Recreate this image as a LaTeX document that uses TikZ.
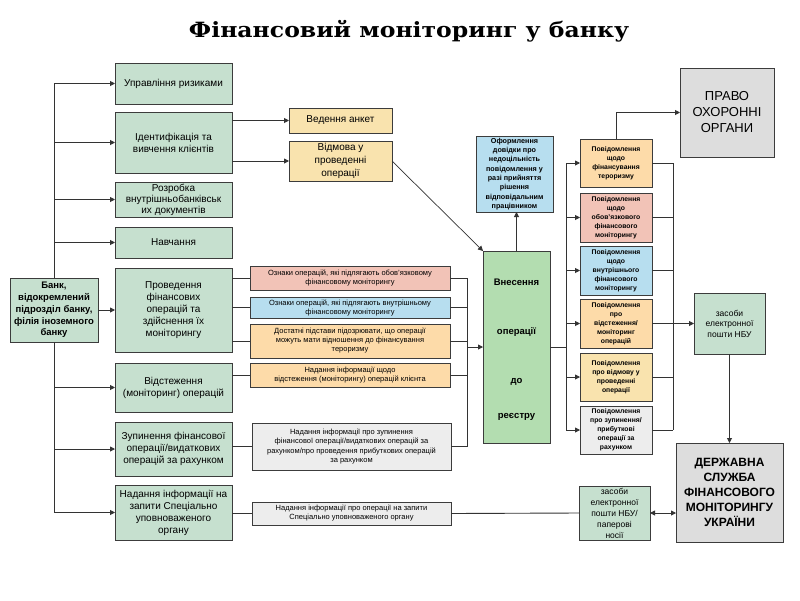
\documentclass[tikz,border=0pt]{standalone}
\usepackage{fontspec}
\setmainfont{Liberation Sans}
\newfontfamily\titlefont[FakeStretch=1.12]{DejaVu Serif}
\usetikzlibrary{arrows.meta,calc}
\definecolor{bordc}{HTML}{3C3C3C}
\definecolor{linec}{HTML}{333333}
\definecolor{grn}{HTML}{C6E0CF}
\definecolor{vgrn}{HTML}{B3DDB0}
\definecolor{orng}{HTML}{FDDBA9}
\definecolor{tan}{HTML}{F9E3AE}
\definecolor{pnk}{HTML}{F2C3B7}
\definecolor{blu}{HTML}{B7DEEF}
\definecolor{lgr}{HTML}{EDEDED}
\definecolor{dgr}{HTML}{DDDDDD}
\newcommand\fsL{\fontsize{10}{12}\selectfont}
\newcommand\fsS{\fontsize{7.5}{9}\selectfont}
\newcommand\fsR{\bfseries\fontsize{6.8}{9}\selectfont}
\newcommand\fsZ{\fontsize{8.5}{10.5}\selectfont}
\tikzset{
  bx/.style={draw=bordc, line width=0.8pt, align=center, inner sep=0pt, outer sep=0pt},
  ln/.style={draw=linec, line width=0.9pt},
  arr/.style={-{Triangle[length=5pt,width=5pt]}},
  darr/.style={{Triangle[length=5pt,width=5pt]}-{Triangle[length=5pt,width=5pt]}},
}
\begin{document}
\begin{tikzpicture}[x=1pt,y=-1pt]
\path[use as bounding box] (0,0) rectangle (800,600);
\fill[white] (0,0) rectangle (800,600);

% title
\node[font=\titlefont\bfseries\fontsize{21}{24}\selectfont] (title) at (409,31) {Фінансовий моніторинг у банку};

% bank
\node[bx, fill=grn, minimum width=88pt, minimum height=64pt, font=\bfseries\fontsize{9.5}{11.8}\selectfont] (bank) at (54,310)
  {Банк,\\відокремлений\\підрозділ банку,\\філія іноземного\\банку};

% left column
\node[bx, fill=grn, minimum width=117pt, minimum height=41pt, font=\fsL] (upr) at (173.5,83.5) {Управління ризиками};
\node[bx, fill=grn, minimum width=117pt, minimum height=61pt, font=\fsL] (ident) at (173.5,142.5) {Ідентифікація та\\вивчення клієнтів};
\node[bx, fill=grn, minimum width=117pt, minimum height=35pt, font=\fontsize{10}{11}\selectfont] (rozr) at (173.5,199.5) {Розробка\\внутрішньобанківськ\\их документів};
\node[bx, fill=grn, minimum width=117pt, minimum height=31pt, font=\fsL] (navch) at (173.5,242.5) {Навчання};
\node[bx, fill=grn, minimum width=117pt, minimum height=84pt, font=\fsL] (prov) at (173.5,310) {Проведення\\фінансових\\операцій та\\здійснення їх\\моніторингу};
\node[bx, fill=grn, minimum width=117pt, minimum height=49pt, font=\fsL] (vidst) at (173.5,387.5) {Відстеження\\(моніторинг) операцій};
\node[bx, fill=grn, minimum width=117pt, minimum height=54pt, font=\fsL] (zup) at (173.5,449) {Зупинення фінансової\\операції/видаткових\\операцій за рахунком};
\node[bx, fill=grn, minimum width=117pt, minimum height=55pt, font=\fsL] (nad) at (173.5,512.5) {Надання інформації на\\запити Спеціально\\уповноваженого\\органу};

% tan boxes
\node[bx, fill=tan, minimum width=103pt, minimum height=25pt, font=\fsL] (ved) at (340.5,120.5) {Ведення анкет};
\node[bx, fill=tan, minimum width=103pt, minimum height=40pt, font=\fontsize{10}{13}\selectfont] (vidm) at (340.5,161) {Відмова у\\проведенні\\операції};

% pale boxes
\node[bx, fill=pnk, minimum width=200pt, minimum height=24pt, font=\fsS] (oz1) at (350,278) {Ознаки операцій, які підлягають обов’язковому\\фінансовому моніторингу};
\node[bx, fill=blu, minimum width=200pt, minimum height=21pt, font=\fsS] (oz2) at (350,307.5) {Ознаки операцій, які підлягають внутрішньому\\фінансовому моніторингу};
\node[bx, fill=orng, minimum width=200pt, minimum height=34pt, font=\fsS] (dost) at (350,341) {Достатні підстави підозрювати, що операції\\можуть мати відношення до фінансування\\тероризму};
\node[bx, fill=orng, minimum width=200pt, minimum height=24pt, font=\fsS] (nadv) at (350,375) {Надання інформації щодо\\відстеження (моніторингу) операцій клієнта};
\node[bx, fill=lgr, minimum width=199pt, minimum height=47pt, font=\fontsize{7.5}{9.3}\selectfont] (nadz) at (351.5,446.5) {Надання інформації про зупинення\\фінансової операції/видаткових операцій за\\рахунком/про проведення прибуткових операцій\\за рахунком};
\node[bx, fill=lgr, minimum width=199pt, minimum height=23pt, font=\fsS] (nadq) at (351.5,513.5) {Надання інформації про операції на запити\\Спеціально уповноваженого органу};

% register
\node[bx, fill=vgrn, minimum width=67pt, minimum height=192pt, font=\bfseries\fontsize{9.5}{12}\selectfont] (vnes) at (516.5,347) {\mbox{}\\[0pt]Внесення\\[37pt]операції\\[37pt]до\\[23pt]реєстру};
\node[bx, fill=blu, minimum width=77pt, minimum height=76pt, font=\bfseries\fontsize{7.2}{9.3}\selectfont] (ofor) at (514.5,174) {Оформлення\\довідки про\\недоцільність\\повідомлення у\\разі прийняття\\рішення\\відповідальним\\працівником};

% right column
\node[bx, fill=orng, minimum width=72pt, minimum height=48pt, font=\fsR] (r1) at (616,163) {Повідомлення\\щодо\\фінансування\\тероризму};
\node[bx, fill=pnk, minimum width=72pt, minimum height=49pt, font=\fsR] (r2) at (616,217.5) {Повідомлення\\щодо\\обов’язкового\\фінансового\\моніторингу};
\node[bx, fill=blu, minimum width=72pt, minimum height=49pt, font=\fsR] (r3) at (616,270.5) {Повідомлення\\щодо\\внутрішнього\\фінансового\\моніторингу};
\node[bx, fill=orng, minimum width=72pt, minimum height=49pt, font=\fsR] (r4) at (616,323.5) {Повідомлення\\про\\відстеження/\\моніторинг\\операцій};
\node[bx, fill=tan, minimum width=72pt, minimum height=48pt, font=\fsR] (r5) at (616,377) {Повідомлення\\про відмову у\\проведенні\\операції};
\node[bx, fill=lgr, minimum width=72pt, minimum height=48pt, font=\fsR] (r6) at (616,430) {Повідомлення\\про зупинення/\\прибуткові\\операції за\\рахунком};

% far right
\node[bx, fill=dgr, minimum width=94pt, minimum height=89pt, font=\fontsize{13}{16}\selectfont] (pravo) at (727,112.5) {ПРАВО\\ОХОРОННІ\\ОРГАНИ};
\node[bx, fill=grn, minimum width=71pt, minimum height=61pt, font=\fsZ] (zas1) at (729.5,323.5) {засоби\\електронної\\пошти НБУ};
\node[bx, fill=dgr, minimum width=107pt, minimum height=99pt, font=\bfseries\fontsize{12}{15}\selectfont] (derzh) at (729.5,492.5) {ДЕРЖАВНА\\СЛУЖБА\\ФІНАНСОВОГО\\МОНІТОРИНГУ\\УКРАЇНИ};
\node[bx, fill=grn, minimum width=71pt, minimum height=54pt, font=\fontsize{8.5}{11}\selectfont] (zas2) at (614.5,513) {засоби\\електронної\\пошти НБУ/\\паперові\\носії};

% bus coordinates
\coordinate (trk) at (54,0);
\coordinate (cA) at (467,0);
\coordinate (bL) at (566,0);
\coordinate (bR) at (673,0);

% trunk
\draw[ln] (trk |- upr.west) -- (bank.north);
\draw[ln] (bank.south) -- (trk |- nad.west);
\foreach \n in {upr,ident,rozr,navch,vidst,zup,nad}
  \draw[ln,arr] (trk |- \n.west) -- (\n.west);
\draw[ln,arr] (bank.east) -- (bank.east -| prov.west);

% identification branches
\draw[ln,arr] (ved.west -| ident.east) -- (ved.west);
\draw[ln,arr] (vidm.west -| ident.east) -- (vidm.west);
\draw[linec, line width=0.7pt, arr] (vidm.east) -- (vnes.north west);

% to pale boxes
\foreach \n in {oz1,oz2,dost}
  \draw[ln] (\n.west -| prov.east) -- (\n.west);
\draw[ln] (nadv.west -| vidst.east) -- (nadv.west);
\draw[ln] (nadz.west -| zup.east) -- (nadz.west);
\draw[ln] (nadq.west -| nad.east) -- (nadq.west);

% collector to register
\foreach \n in {oz1,oz2,dost,nadv}
  \draw[ln] (\n.east) -- (cA |- \n.east);
\draw[ln] (cA |- oz1.east) -- (cA |- nadz.east) -- (nadz.east);
\draw[ln,arr] (cA |- vnes.west) -- (vnes.west);

% register up
\draw[ln,arr] (vnes.north) -- (vnes.north |- ofor.south);

% register to right column
\draw[ln] (vnes.east) -- (bL |- vnes.east);
\draw[ln] (bL |- r1.west) -- (bL |- r6.west);
\foreach \n in {r1,r2,r3,r4,r5,r6}
  \draw[ln,arr] (bL |- \n.west) -- (\n.west);

% right bus
\foreach \n in {r1,r2,r3,r4,r5,r6}
  \draw[ln] (\n.east) -- (bR |- \n.east);
\draw[ln] (bR |- r1.east) -- (bR |- r6.east);
\draw[ln,arr] (bR |- zas1.west) -- (zas1.west);

% to law enforcement
\draw[ln,arr] (r1.north) |- (pravo.west);

% to state service
\draw[ln,arr] (zas1.south) -- (zas1.south |- derzh.north);
\draw[ln] (nadq.east) -- (zas2.west);
\draw[ln,darr] (zas2.east) -- (derzh.west |- zas2.east);
\end{tikzpicture}
\end{document}
